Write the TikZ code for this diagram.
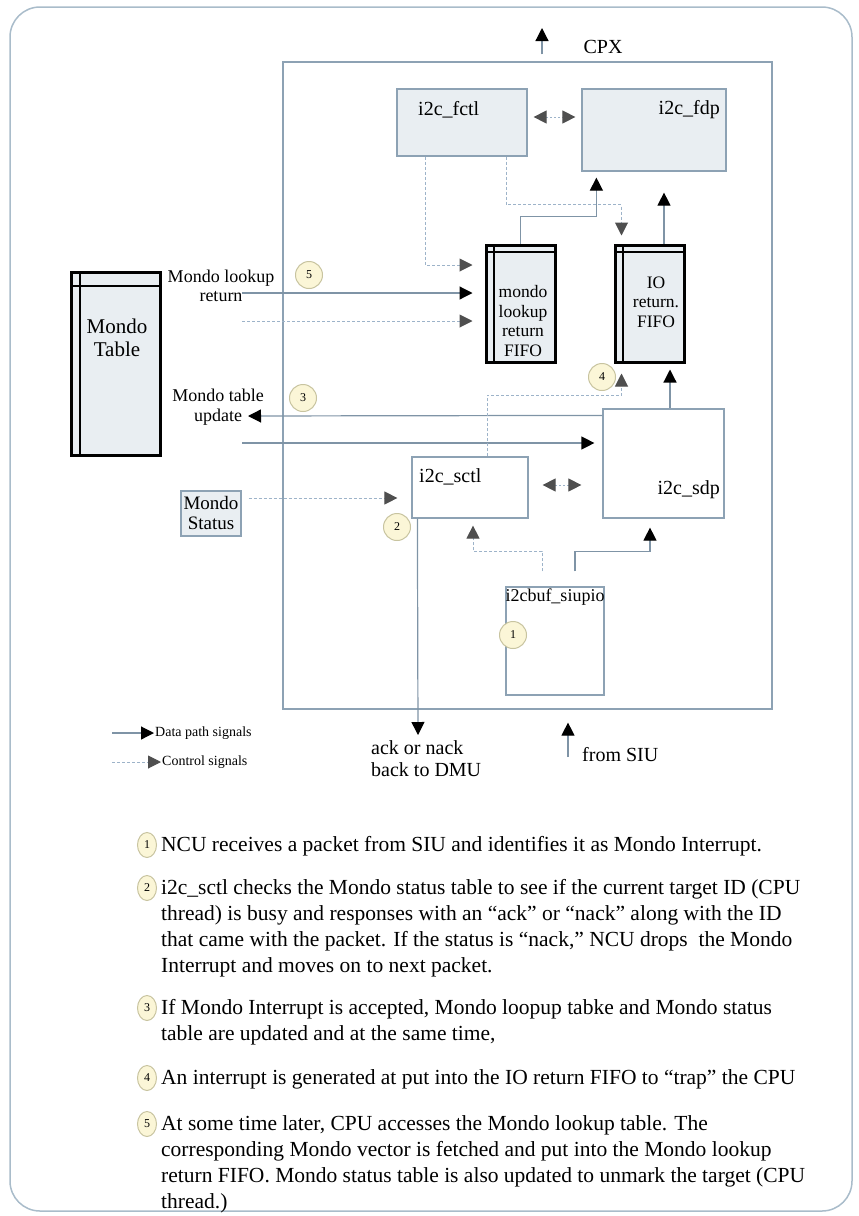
\documentclass[tikz,border=0pt]{standalone}
\usepackage{fontspec}
\setmainfont{Liberation Serif}
\usetikzlibrary{arrows.meta,positioning,calc,shapes.geometric}
\definecolor{frameline}{HTML}{A9BCCA}
\definecolor{edge}{HTML}{8DA2B4}
\definecolor{boxfill}{HTML}{E9EEF2}
\definecolor{wire}{HTML}{7F94A6}
\definecolor{ctlwire}{HTML}{9DB3C9}
\definecolor{ctlhead}{HTML}{4F4F4F}
\definecolor{stepfill}{HTML}{FBF6D7}
\definecolor{stepline}{HTML}{C8C4A0}
\newcommand{\lblsize}{\fontsize{20}{22}\selectfont}
\newcommand{\fifosize}{\fontsize{17.5}{19.5}\selectfont}
\newcommand{\notesize}{\fontsize{21.5}{26}\selectfont}
\newcommand{\legsize}{\fontsize{14}{15}\selectfont}
\tikzset{
  frame/.style={draw=edge,line width=1.2pt,inner sep=0pt},
  blk/.style={draw=edge,fill=boxfill,line width=1.2pt,inner sep=0pt},
  wblk/.style={blk,fill=white},
  fifo/.style 2 args={draw=black,line width=3pt,fill=boxfill,inner sep=0pt,
    path picture={
      \draw[line width=2.5pt] ([xshift=#1]path picture bounding box.north west) -- ([xshift=#1]path picture bounding box.south west);
      \draw[line width=2.5pt] ([yshift=-#2]path picture bounding box.north west) -- ([yshift=-#2]path picture bounding box.north east);}},
  data/.style={draw=wire,line width=1.2pt,-{Triangle[length=13pt,width=13pt,color=black]}},
  ctl/.style={draw=ctlwire,line width=1pt,dash pattern=on 3pt off 2pt,-{Triangle[length=13pt,width=13pt,color=ctlhead]}},
  ctlbi/.style={draw=ctlwire,line width=1pt,dash pattern=on 2pt off 2pt,{Triangle[length=13pt,width=13pt,color=ctlhead]}-{Triangle[length=13pt,width=13pt,color=ctlhead]}},
  stepno/.style={circle,draw=stepline,fill=stepfill,line width=1pt,minimum size=27pt,inner sep=0pt,font=\fontsize{12}{12}\selectfont},
  notestep/.style={ellipse,draw=stepline,fill=stepfill,line width=1pt,minimum width=19pt,minimum height=25pt,inner sep=0pt,font=\fontsize{12}{12}\selectfont},
  notetxt/.style={font=\notesize,align=left,inner sep=0pt,anchor=north west}
}
\begin{document}
\begin{tikzpicture}[x=1pt,y=-1pt]
  \useasboundingbox (0,0) rectangle (859,1216);
  \draw[frameline,line width=1.5pt,rounded corners=30pt] (10,7) rectangle (852,1211);

  % blocks
  \node[frame,minimum width=489pt,minimum height=647pt] (cpx) at (527.5,385.5) {};
  \node[blk,minimum width=130pt,minimum height=67pt] (fctl) at (462,122.5) {};
  \node[blk,minimum width=144pt,minimum height=82pt] (fdp) at (654,130) {};
  \node[fifo={8pt}{7pt},minimum width=69pt,minimum height=117pt] (mfifo) at (520.5,303.5) {};
  \node[fifo={8pt}{7pt},minimum width=69pt,minimum height=117pt] (iofifo) at (649.5,303.5) {};
  \node[fifo={9pt}{14pt},minimum width=89pt,minimum height=183pt] (mtable) at (115.5,363.5) {};
  \node[wblk,minimum width=116pt,minimum height=61pt] (sctl) at (470,487.5) {};
  \node[wblk,minimum width=121pt,minimum height=109pt] (sdp) at (663.5,463.5) {};
  \node[blk,minimum width=60pt,minimum height=45pt] (mstatus) at (211,513.5) {};
  \node[wblk,minimum width=98pt,minimum height=108pt] (siupio) at (555,641) {};

  % labels
  \node[font=\lblsize] (cpxlbl) at (603,47) {CPX};
  \node[font=\lblsize,anchor=west,inner sep=0pt] (fctllbl) at (418,110) {i2c\_fctl};
  \node[font=\lblsize,anchor=east,inner sep=0pt] (fdplbl) at (720,110) {i2c\_fdp};
  \node[font=\fifosize,align=center] (mfifolbl) at (523,321) {mondo\\lookup\\return\\FIFO};
  \node[font=\fifosize,align=center] (iofifolbl) at (656,302) {IO\\return.\\FIFO};
  \node[font=\fontsize{21}{23}\selectfont,align=center] (mtablelbl) at (117,338) {Mondo\\Table};
  \node[font=\fontsize{18}{19}\selectfont,align=center] (mlrlbl) at (221,286) {Mondo lookup\\return};
  \node[font=\fontsize{18}{20}\selectfont,align=center] (mtulbl) at (218,407) {Mondo table\\update};
  \node[font=\lblsize,anchor=west,inner sep=0pt] (sctllbl) at (419,477) {i2c\_sctl};
  \node[font=\lblsize,anchor=east,inner sep=0pt] (sdplbl) at (720,490) {i2c\_sdp};
  \node[font=\fontsize{19}{20}\selectfont,align=center] (mstatuslbl) at (211,513) {Mondo\\Status};
  \node[font=\fontsize{18}{19}\selectfont,anchor=north,inner sep=2pt] (siupiolbl) at (siupio.north) {i2cbuf\_siupio};
  \node[font=\lblsize,align=left,anchor=north west,inner sep=0pt] (acklbl) at (371,740) {ack or nack\\back to DMU};
  \node[font=\lblsize,anchor=west,inner sep=0pt] (siulbl) at (582,755) {from SIU};

  % step markers
  \node[stepno] (s5) at (309,275) {5};
  \node[stepno] (s3) at (303,398) {3};
  \node[stepno] (s4) at (602,377) {4};
  \node[stepno] (s2) at (397,527) {2};
  \node[stepno] (s1) at (513,635) {1};

  % i2c_fctl / i2c_fdp
  \coordinate (fbi) at ([yshift=5.5pt]fctl.east);
  \draw[ctlbi,shorten <=6pt,shorten >=6pt] (fbi) -- (fbi -| fdp.west);
  \draw[ctl,shorten >=12pt] ($(fctl.south west)+(29,0)$) |- ($(mfifo.west)+(0,-38.5)$);
  \draw[ctl,shorten >=8pt] ($(fctl.south west)+(110,0)$) -- ++(0,48) -| ($(iofifo.north west)+(8,0)$);
  \draw[data,shorten >=6pt] (mfifo.north) -- ++(0,-27) -| ($(fdp.south west)+(15,0)$);
  \coordinate (iotop) at ($(iofifo.north)+(14.5,0)$);
  \draw[data,shorten >=21pt] (iotop) -- (iotop |- fdp.south);

  % left side signals
  \coordinate (mlrout) at (242,293);
  \draw[data,shorten >=12pt] (mlrout) -- (mlrout -| mfifo.west);
  \coordinate (mlrctl) at (242,321);
  \draw[ctl,shorten >=12pt] (mlrctl) -- (mlrctl -| mfifo.west);
  \coordinate (mtuin) at (248,416);
  \draw[data] ($(sdp.north west)+(0,7)$) -- (mtuin);
  \coordinate (sdpin) at (242,443);
  \draw[data,shorten >=8pt] (sdpin) -- (sdpin -| sdp.west);

  % i2c_sctl / i2c_sdp
  \draw[ctl,shorten >=10pt] ($(sctl.north)+(17,0)$) -- ++(0,-61) -| ($(iofifo.south west)+(8,0)$);
  \coordinate (sdptop) at ($(sdp.north)+(6.5,0)$);
  \draw[data,shorten >=6pt] (sdptop) -- (sdptop |- iofifo.south);
  \coordinate (msout) at ($(mstatus.east)+(7,-15.5)$);
  \draw[ctl,shorten >=14pt] (msout) -- (msout -| sctl.west);
  \coordinate (sbi) at ([yshift=2.5pt]sctl.east);
  \draw[ctlbi,shorten <=14pt,shorten >=21pt] (sbi) -- (sbi -| sdp.west);
  \coordinate (ackout) at (418,735);
  \draw[data] ($(sctl.south west)+(6,0)$) -- (ackout);

  % i2cbuf_siupio
  \coordinate (sbufc) at ($(siupio.north)+(-13,-15)$);
  \draw[ctl,shorten >=7pt] (sbufc) -- ++(0,-20) -| ($(sctl.south)+(3,0)$);
  \coordinate (sbufd) at ($(siupio.north)+(20,-15)$);
  \draw[data,shorten >=9pt] (sbufd) -- ++(0,-20) -| ($(sdp.south)+(-13.5,0)$);
  \coordinate (siuin) at (568,757);
  \draw[data,shorten >=13pt] (siuin) -- (siuin |- cpx.south);
  \coordinate (cpxout) at (542,28);
  \draw[data,shorten <=7pt] (cpx.north -| cpxout) -- (cpxout);

  % legend
  \node[font=\legsize,anchor=west,inner sep=1pt] (legdlbl) at (154,733) {Data path signals};
  \node[font=\legsize,anchor=west,inner sep=1pt] (legclbl) at (161,762) {Control signals};
  \coordinate (legd) at (112,733);
  \draw[data] (legd) -- (legdlbl.west);
  \coordinate (legc) at (112,762);
  \draw[ctl] (legc) -- (legc -| legclbl.west);

  % notes
  \node[notestep] (n1) at (147,845) {1};
  \node[notetxt] (t1) at (161,836) {NCU receives a packet from SIU and identifies it as Mondo Interrupt.};
  \node[notestep] (n2) at (147,888) {2};
  \node[notetxt] (t2) at (161,879) {i2c\_sctl checks the Mondo status table to see if the current target ID (CPU\\
    thread) is busy and responses with an “ack” or “nack” along with the ID\\
    that came with the packet. If the status is “nack,” NCU drops\ \ the Mondo\\
    Interrupt and moves on to next packet.};
  \node[notestep] (n3) at (147,1008) {3};
  \node[notetxt] (t3) at (161,999) {If Mondo Interrupt is accepted, Mondo loopup tabke and Mondo status\\
    table are updated and at the same time,};
  \node[notestep] (n4) at (147,1078) {4};
  \node[notetxt] (t4) at (161,1069) {An interrupt is generated at put into the IO return FIFO to “trap” the CPU};
  \node[notestep] (n5) at (147,1124) {5};
  \node[notetxt] (t5) at (161,1115) {At some time later, CPU accesses the Mondo lookup table. The\\
    corresponding Mondo vector is fetched and put into the Mondo lookup\\
    return FIFO. Mondo status table is also updated to unmark the target (CPU\\
    thread.)};
\end{tikzpicture}
\end{document}
